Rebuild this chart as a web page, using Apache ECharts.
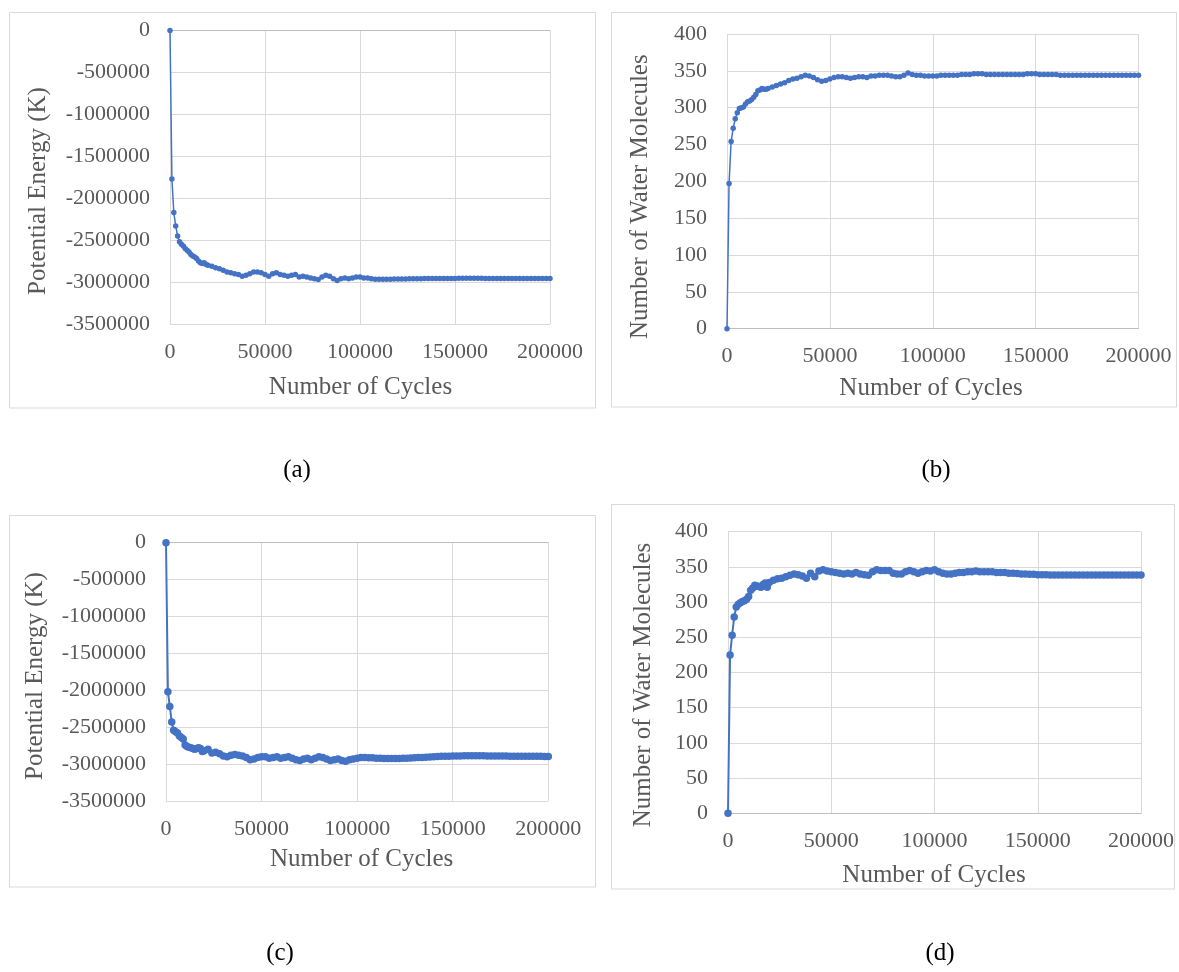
<!DOCTYPE html>
<html><head><meta charset="utf-8">
<script src="https://cdn.jsdelivr.net/npm/echarts@6/dist/echarts.min.js"></script>
<style>html,body{margin:0;padding:0;background:#fff}#c{width:1179px;height:972px}</style>
</head><body><div id="c"></div><script>
// Number of cycles (x values)
const cycles = [0,1000,2000,3000,4000,5000,6000,7000,8000,9000,10000,11000,12000,13000,14000,15000,16000,17000,18000,19000,20000,
22000,24000,26000,28000,30000,32000,34000,36000,38000,40000,
42000,44000,46000,48000,50000,52000,54000,56000,58000,60000,
62000,64000,66000,68000,70000,72000,74000,76000,78000,80000,
82000,84000,86000,88000,90000,92000,94000,96000,98000,100000,
102000,104000,106000,108000,110000,112000,114000,116000,118000,120000,
122000,124000,126000,128000,130000,132000,134000,136000,138000,140000,
142000,144000,146000,148000,150000,152000,154000,156000,158000,160000,
162000,164000,166000,168000,170000,172000,174000,176000,178000,180000,
182000,184000,186000,188000,190000,192000,194000,196000,198000,200000];

// (a) Potential energy (K)
const energyA = [0,-1770000,-2170000,-2330000,-2450000,-2520000,-2550000,-2570000,-2600000,-2620000,-2640000,-2670000,-2690000,-2700000,-2720000,-2750000,-2770000,-2780000,-2770000,-2790000,-2800000,
-2810000,-2830000,-2840000,-2860000,-2880000,-2890000,-2900000,-2910000,-2930000,-2920000,
-2900000,-2880000,-2880000,-2890000,-2910000,-2930000,-2900000,-2890000,-2910000,-2920000,
-2930000,-2920000,-2910000,-2940000,-2930000,-2940000,-2950000,-2960000,-2970000,-2940000,
-2920000,-2930000,-2960000,-2980000,-2960000,-2950000,-2960000,-2950000,-2940000,-2940000,
-2950000,-2950000,-2960000,-2965000,-2965000,-2965000,-2966000,-2965000,-2964000,-2963000,
-2963000,-2962000,-2961000,-2960000,-2960000,-2959000,-2958000,-2958000,-2957000,-2957000,
-2957000,-2956000,-2956000,-2956000,-2956000,-2955000,-2955000,-2955000,-2955000,-2955000,
-2955000,-2955000,-2956000,-2956000,-2956000,-2956000,-2956000,-2957000,-2957000,-2957000,
-2957000,-2957000,-2957000,-2957000,-2957000,-2957000,-2957000,-2957000,-2957000,-2957000];

// (b) Number of water molecules
const waterB = [0,197,254,272,285,293,299,300,301,305,308,309,311,314,318,323,324,326,325,325,326,
328,330,332,334,337,339,340,342,344,343,
341,338,336,337,339,341,342,342,341,340,
341,342,342,341,343,343,344,344,344,343,
342,342,344,347,345,344,344,343,343,343,
343,344,344,344,344,344,345,345,345,346,
346,346,345,345,345,345,345,345,345,345,
345,345,346,346,346,345,345,345,345,345,
344,344,344,344,344,344,344,344,344,344,
344,344,344,344,344,344,344,344,344,344];

// (c) Potential energy (K)
const energyC = [0,-2020000,-2220000,-2430000,-2540000,-2560000,-2580000,-2620000,-2640000,-2660000,-2740000,-2760000,-2770000,-2780000,-2790000,-2800000,-2790000,-2780000,-2790000,-2830000,-2820000,
-2800000,-2850000,-2840000,-2860000,-2890000,-2900000,-2880000,-2870000,-2880000,-2890000,
-2910000,-2940000,-2930000,-2910000,-2900000,-2900000,-2920000,-2910000,-2900000,-2920000,
-2910000,-2900000,-2920000,-2940000,-2950000,-2930000,-2920000,-2940000,-2920000,-2900000,
-2910000,-2930000,-2950000,-2940000,-2930000,-2950000,-2960000,-2940000,-2930000,-2920000,
-2910000,-2910000,-2915000,-2915000,-2920000,-2920000,-2925000,-2925000,-2925000,-2925000,
-2925000,-2922000,-2920000,-2918000,-2915000,-2912000,-2910000,-2907000,-2903000,-2900000,
-2897000,-2895000,-2893000,-2892000,-2890000,-2890000,-2889000,-2888000,-2888000,-2888000,
-2888000,-2888000,-2888000,-2889000,-2889000,-2890000,-2890000,-2891000,-2891000,-2892000,
-2892000,-2893000,-2893000,-2894000,-2894000,-2895000,-2895000,-2895000,-2896000,-2896000];

// (d) Number of water molecules
const waterD = [0,225,253,279,293,297,299,301,302,304,308,317,320,324,323,322,321,325,327,321,328,
331,333,334,336,338,340,339,337,334,341,
336,344,346,344,343,342,341,340,341,340,
342,340,339,338,343,346,345,345,345,341,
340,340,343,345,343,341,343,345,344,346,
343,341,340,340,341,342,342,343,343,344,
343,343,343,343,342,342,342,341,341,340.5,
340,340,339.5,339.5,339,339,339,338.5,338.5,338.5,
338.5,338.5,338.5,338.5,338.5,338.5,338.5,338.5,338.5,338.5,
338.5,338.5,338.5,338.5,338.5,338.5,338.5,338.5,338.5,338.5];

const xTitle = 'Number of Cycles';
const yTitleEnergy = 'Potential Energy (K)';
const yTitleWater = 'Number of Water Molecules';
const panelLabels = ['(a)', '(b)', '(c)', '(d)'];

const FONT = "'Liberation Serif','Times New Roman',serif";
const GRAY = '#595959';
const GRID = '#d9d9d9';
const BLUE = '#4472C4';

const grids = [
  {left: 170, top: 30.5, width: 380, height: 293.5},
  {left: 727, top: 34, width: 411.5, height: 294.7},
  {left: 166, top: 542.7, width: 382.3, height: 258.3},
  {left: 728, top: 531.7, width: 413, height: 281.6}
];
const yRanges = [
  {min: -3500000, max: 0, interval: 500000},
  {min: 0, max: 400, interval: 50},
  {min: -3500000, max: 0, interval: 500000},
  {min: 0, max: 400, interval: 50}
];
const seriesVals = [energyA, waterB, energyC, waterD];
const symSizes = [5.5, 5.5, 7.5, 7.5];
const lineWidths = [1.5, 1.5, 2, 2];

const xAxes = [];
const yAxes = [];
const series = [];
for (let i = 0; i < 4; i++) {
  const bottomAxis = (i === 1 || i === 3);
  xAxes.push({
    gridIndex: i, type: 'value', min: 0, max: 200000, interval: 50000,
    axisLabel: {fontFamily: FONT, fontSize: 22, color: GRAY, margin: 17, formatter: v => String(v)},
    axisTick: {show: false},
    axisLine: {show: bottomAxis, onZero: false, lineStyle: {color: '#bfbfbf', width: 1}},
    splitLine: {show: true, lineStyle: {color: GRID, width: 1}}
  });
  yAxes.push({
    gridIndex: i, type: 'value', min: yRanges[i].min, max: yRanges[i].max, interval: yRanges[i].interval,
    axisLabel: {fontFamily: FONT, fontSize: 22, color: GRAY, margin: 20, formatter: v => String(v)},
    axisTick: {show: false},
    axisLine: {show: false},
    splitLine: {show: true, lineStyle: {color: GRID, width: 1}}
  });
  series.push({
    type: 'line', xAxisIndex: i, yAxisIndex: i,
    data: cycles.map((c, k) => [c, seriesVals[i][k]]),
    symbol: 'circle', symbolSize: symSizes[i], showSymbol: true,
    lineStyle: {color: BLUE, width: lineWidths[i]},
    itemStyle: {color: BLUE},
    animation: false, silent: true
  });
}
// top axis lines for energy panels (horizontal axis crosses at 0)
[0, 2].forEach(i => {
  xAxes.push({
    gridIndex: i, type: 'value', position: 'top', min: 0, max: 200000, interval: 50000,
    axisLabel: {show: false}, axisTick: {show: false}, splitLine: {show: false},
    axisLine: {show: true, onZero: false, lineStyle: {color: '#bfbfbf', width: 1}}
  });
});

const boxes = [
  {x: 9.5, y: 12.5, width: 586, height: 395.5},
  {x: 611.5, y: 12.5, width: 565, height: 394.5},
  {x: 9.5, y: 515.5, width: 586, height: 371.5},
  {x: 611.5, y: 504.5, width: 563, height: 384.5}
];
const xTitlePos = [[360.5, 387], [931, 388], [361.7, 859], [934, 875]];
const yTitlePos = [[38.5, 191], [640, 196.7], [35.8, 676], [643.7, 685]];
const yTitles = [yTitleEnergy, yTitleWater, yTitleEnergy, yTitleWater];
const labelPos = [[297, 470], [936, 470], [280, 953], [940, 953]];

const graphic = [];
for (let i = 0; i < 4; i++) {
  graphic.push({type: 'rect', shape: boxes[i], style: {fill: 'none', stroke: '#d9d9d9', lineWidth: 1}, z: -1, silent: true});
  graphic.push({type: 'text', x: xTitlePos[i][0], y: xTitlePos[i][1],
    style: {text: xTitle, font: '25px ' + FONT, fill: GRAY, textAlign: 'center', textVerticalAlign: 'middle'}});
  graphic.push({type: 'text', x: yTitlePos[i][0], y: yTitlePos[i][1], rotation: Math.PI / 2,
    style: {text: yTitles[i], font: '25px ' + FONT, fill: GRAY, textAlign: 'center', textVerticalAlign: 'middle'}});
  graphic.push({type: 'text', x: labelPos[i][0], y: labelPos[i][1],
    style: {text: panelLabels[i], font: '25px ' + FONT, fill: '#000', textAlign: 'center', textVerticalAlign: 'middle'}});
}

const chart = echarts.init(document.getElementById('c'), null, {renderer: 'canvas'});
chart.setOption({
  backgroundColor: '#fff',
  animation: false,
  grid: grids.map(g => Object.assign({containLabel: false}, g)),
  xAxis: xAxes,
  yAxis: yAxes,
  series: series,
  graphic: graphic
});
</script></body></html>
